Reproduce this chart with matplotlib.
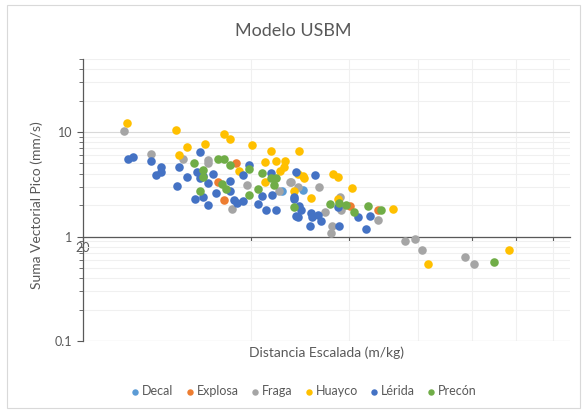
# coding:utf-8
import matplotlib
matplotlib.use("Agg")
import matplotlib.pyplot as plt
from matplotlib.patches import Rectangle
from matplotlib.ticker import FixedLocator, NullFormatter, FuncFormatter

# Distancia escalada (m/kg) y velocidad pico (mm/s) por cantera
decal_x = [49.6, 45.5]
decal_y = [2.8, 2.7]

explosa_x = [34.9, 35.8, 37.6, 60.3, 67.7]
explosa_y = [3.35, 2.25, 5.1, 1.97, 1.81]

fraga_x = [23.7, 26.5, 30.3, 33.5, 33.5, 37.0, 39.5, 45.0, 47.0, 47.2, 48.6, 53.2,
           54.4, 57.9, 58.1, 56.0, 55.7, 67.7, 75.8, 79.0, 81.3, 97.2, 100.9]
fraga_y = [10.2, 6.2, 5.5, 5.4, 5.1, 1.85, 3.1, 2.75, 3.3, 3.35, 3.0, 3.0,
           1.7, 2.4, 1.8, 1.27, 1.09, 1.45, 0.9, 0.94, 0.75, 0.63, 0.54]

huayco_x = [24.0, 29.4, 30.8, 29.8, 33.2, 35.9, 36.7, 40.3, 43.5, 42.4, 44.4, 46.2,
            45.9, 48.8, 48.6, 49.8, 50.0, 56.2, 57.4, 60.8, 51.3, 57.4, 72.1, 42.4,
            47.8, 38.2, 45.1, 83.3, 116.7]
huayco_y = [12.2, 10.4, 7.2, 6.0, 7.7, 9.6, 8.6, 7.5, 6.6, 5.2, 5.3, 5.3,
            4.6, 6.6, 4.0, 3.8, 3.6, 4.0, 3.7, 2.9, 2.35, 2.3, 1.85, 3.3,
            2.75, 4.25, 4.2, 0.54, 0.74]

lerida_x = [24.1, 24.6, 26.5, 27.6, 27.6, 27.0, 29.8, 29.5, 32.4, 32.1, 32.4, 30.8,
            34.2, 31.8, 32.8, 33.5, 33.6, 34.7, 36.7, 36.7, 37.3, 37.9, 38.8, 38.7,
            39.7, 41.2, 41.9, 43.8, 42.6, 44.4, 47.8, 48.2, 47.8, 48.8, 48.6, 51.3,
            51.5, 52.8, 53.5, 51.1, 52.2, 57.6, 57.4, 62.3, 65.5, 64.4, 32.9, 43.6,
            48.2, 49.2]
lerida_y = [5.5, 5.8, 5.3, 4.6, 4.15, 3.9, 4.6, 3.05, 6.45, 4.15, 3.65, 3.7,
            4.0, 2.3, 2.4, 2.0, 3.25, 2.6, 3.4, 2.75, 2.25, 2.1, 2.2, 3.9,
            4.85, 2.06, 2.45, 2.5, 1.81, 1.81, 2.3, 1.58, 2.4, 1.97, 1.55, 1.69,
            1.55, 1.62, 1.42, 1.27, 3.9, 1.27, 1.93, 1.55, 1.58, 1.17, 3.8, 4.07,
            4.16, 1.81]

precon_x = [31.7, 32.9, 32.8, 32.4, 34.9, 35.8, 36.8, 35.5, 36.1, 39.7, 39.7, 41.2,
            42.0, 43.5, 44.4, 44.0, 47.8, 55.5, 57.6, 59.3, 61.3, 65.0, 68.6, 109.6]
precon_y = [5.1, 4.35, 3.7, 2.7, 5.5, 5.5, 4.85, 3.2, 2.87, 4.45, 2.5, 2.87,
            4.1, 3.65, 3.65, 3.1, 1.9, 2.06, 2.1, 2.0, 1.73, 1.97, 1.81, 0.57]

series = [
    ("Decal", decal_x, decal_y, "#5B9BD5"),
    ("Explosa", explosa_x, explosa_y, "#ED7D31"),
    ("Fraga", fraga_x, fraga_y, "#A5A5A5"),
    ("Huayco", huayco_x, huayco_y, "#FFC000"),
    ("Lérida", lerida_x, lerida_y, "#4472C4"),
    ("Precón", precon_x, precon_y, "#70AD47"),
]

x_ticks = [20, 40, 60, 80, 100, 120, 140]

plt.rcParams['font.family'] = ['Lato', 'DejaVu Sans']
txt = "#595959"

fig = plt.figure(figsize=(5.87, 4.11), dpi=100)
fig.patches.append(Rectangle((0.012, 0.007), 0.976, 0.981, transform=fig.transFigure,
                             fill=False, edgecolor="#D9D9D9", linewidth=0.8))
ax = fig.add_axes([0.1414, 0.1703, 0.8296, 0.6861])

for name, xs, ys, col in series:
    ax.scatter(xs, ys, s=38, color=col, label=name, zorder=3, linewidths=0)

ax.set_xscale("log")
ax.set_yscale("log")
ax.set_xlim(20, 150)
ax.set_ylim(0.1, 50)

# eje horizontal cruzando en y = 1, como en Excel
ax.spines['bottom'].set_position(('data', 1))
ax.spines['top'].set_visible(False)
ax.spines['right'].set_visible(False)
for s in ['bottom', 'left']:
    ax.spines[s].set_color("#595959")
    ax.spines[s].set_linewidth(0.9)

ax.xaxis.set_major_locator(FixedLocator(x_ticks))
ax.xaxis.set_minor_locator(FixedLocator([]))
ax.xaxis.set_major_formatter(FuncFormatter(lambda v, p: "20" if abs(v - 20) < 1e-6 else ""))
ax.xaxis.set_minor_formatter(NullFormatter())
ax.tick_params(axis='x', which='major', length=3, color="#595959", labelcolor=txt,
               labelsize=9, pad=1)

ax.yaxis.set_major_locator(FixedLocator([0.1, 1, 10]))
ax.yaxis.set_major_formatter(FuncFormatter(lambda v, p: "%g" % v))
minor_y = [m * d for d in [0.1, 1, 10] for m in range(2, 10) if m * d <= 50]
ax.yaxis.set_minor_locator(FixedLocator(minor_y))
ax.yaxis.set_minor_formatter(NullFormatter())
ax.tick_params(axis='y', which='major', length=4, color="#595959", labelcolor=txt, labelsize=9)
ax.tick_params(axis='y', which='minor', length=3, color="#595959")

ax.grid(True, which='major', axis='y', color="#D9D9D9", linewidth=0.8, zorder=0)
ax.grid(True, which='minor', axis='y', color="#F0F0F0", linewidth=0.8, zorder=0)
ax.grid(True, which='major', axis='x', color="#F0F0F0", linewidth=0.8, zorder=0)
ax.axhline(0.1, color="#D9D9D9", linewidth=0.8, zorder=0)

fig.text(0.5, 0.925, "Modelo USBM", ha='center', va='center', fontsize=13, color=txt)
fig.text(0.557, 0.143, "Distancia Escalada (m/kg)", ha='center', va='center', fontsize=10, color=txt)
fig.text(0.063, 0.5, "Suma Vectorial Pico (mm/s)", ha='center', va='center', rotation=90,
         fontsize=10, color=txt)

leg = fig.legend(loc='center', bbox_to_anchor=(0.518, 0.048), ncol=6, frameon=False,
                 fontsize=9, handlelength=0.6, handletextpad=0.25, columnspacing=1.0,
                 markerscale=0.75, scatterpoints=1, borderaxespad=0)
for t in leg.get_texts():
    t.set_color(txt)

fig.savefig("out.png", dpi=100)
